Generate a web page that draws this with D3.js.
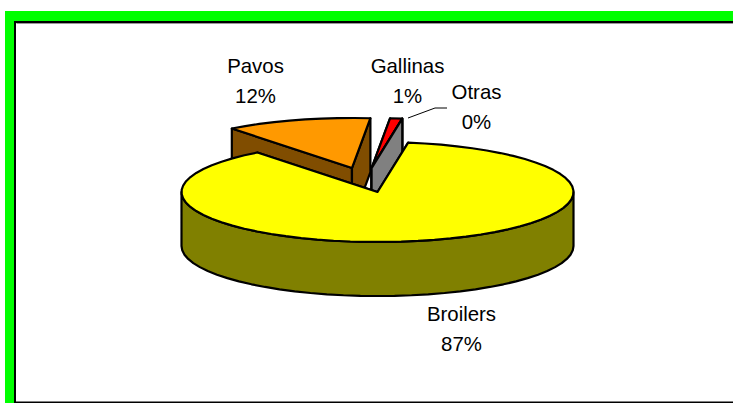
<!DOCTYPE html>
<html>
<head>
<meta charset="utf-8">
<script src="https://cdnjs.cloudflare.com/ajax/libs/d3/7.8.5/d3.min.js"></script>
<style>
html,body{margin:0;padding:0;background:#fff;overflow:hidden}
text{font-family:"Liberation Sans",Arial,sans-serif;font-size:20.4px;fill:#000;text-anchor:middle}
</style>
</head>
<body>
<svg id="chart" width="733" height="403"></svg>
<script>
// Shares of poultry meat production by type of bird
const categories = ["Broilers", "Pavos", "Gallinas", "Otras"];
const shares = [87, 12, 1, 0];

const topColors = ["#ffff00", "#ff9900", "#ff0000", "#808080"];
const sideColors = ["#808000", "#804d00", "#800000", "#808080"];

// Pulled-out wedges: distance as a fraction of the radius, and its bearing in degrees
const pullDistance = [0, 0.497, 0.48, 0.48];
const pullBearing = [0, -15.2, -3.6, -3.6];

// Label centres (name baseline) and painting order (back to front)
const labelCentres = [[461.5, 321], [255.5, 73], [407.5, 73], [476.5, 99]];
const paintOrder = [1, 2, 3, 0];

const width = 733, height = 403;
const centre = {x: 377.5, y: 192}, rx = 196, ry = 50, depth = 54;
const firstAngle = 9;

const svg = d3.select("#chart");
const toRad = d => d * Math.PI / 180;

// Frame: green band on the top and left, thin black rule inside it
svg.append("rect").attr("x", 5).attr("y", 11).attr("width", width - 5).attr("height", 10).attr("fill", "#00ff00");
svg.append("rect").attr("x", 5).attr("y", 11).attr("width", 9).attr("height", height - 11).attr("fill", "#00ff00");
svg.append("path").attr("d", `M${width},22H15V${height}`).attr("fill", "none").attr("stroke", "#000").attr("stroke-width", 2);
svg.append("path").attr("d", `M${width},23.5H16.5`).attr("fill", "none").attr("stroke", "#999").attr("stroke-width", 1);
svg.append("path").attr("d", `M15,402.2H${width}`).attr("fill", "none").attr("stroke", "#000").attr("stroke-width", 1.6);

// Elliptical projection of the unit disc
const px = d3.scaleLinear().domain([-1, 1]).range([-rx, rx]);
const py = d3.scaleLinear().domain([-1, 1]).range([-ry, ry]);

const pie = d3.pie().value(d => d).sort(null)
  .startAngle(toRad(firstAngle)).endAngle(toRad(firstAngle + 360));
const arcs = pie(shares);

const line = d3.line().curve(d3.curveLinear);

function apexOf(i) {
  const b = toRad(pullBearing[i]), k = pullDistance[i];
  return [centre.x + px(Math.sin(b) * k), centre.y + py(-Math.cos(b) * k)];
}
function rim(apex, a, drop = 0) {
  return [apex[0] + px(Math.sin(a)), apex[1] + py(-Math.cos(a)) + drop];
}
function sample(a0, a1) {
  const n = Math.max(1, Math.round(Math.abs(a1 - a0) / toRad(5)));
  return d3.range(n + 1).map(j => a0 + (a1 - a0) * j / n);
}

const slices = svg.append("g").attr("stroke", "#000").attr("stroke-width", 2.2).attr("stroke-linejoin", "round");

paintOrder.forEach(i => {
  const arc = arcs[i], apex = apexOf(i), g = slices.append("g").attr("class", categories[i]);
  const a0 = arc.startAngle, a1 = arc.endAngle;

  // Cut faces of the wedge
  [a0, a1].forEach(a => {
    const r0 = rim(apex, a), r1 = rim(apex, a, depth);
    g.append("path").attr("fill", sideColors[i])
      .attr("d", line([apex, r0, r1, [apex[0], apex[1] + depth]]) + "Z");
  });

  // Outer wall: only the front half of the rim faces the viewer
  const w0 = Math.max(a0, Math.PI / 2), w1 = Math.min(a1, 3 * Math.PI / 2);
  if (w1 > w0) {
    const angles = sample(w0, w1);
    const upper = angles.map(a => rim(apex, a));
    const lower = angles.slice().reverse().map(a => rim(apex, a, depth));
    g.append("path").attr("fill", sideColors[i]).attr("d", line(upper.concat(lower)) + "Z");
  }

  // Top surface (a zero share leaves only its cut face)
  if (a1 > a0) {
    const top = [apex].concat(sample(a0, a1).map(a => rim(apex, a)));
    g.append("path").attr("fill", topColors[i]).attr("d", line(top) + "Z");
  }
});

// Leader from the Gallinas wedge to its label
svg.append("path").attr("d", "M408,118L435,108H447").attr("fill", "none").attr("stroke", "#000").attr("stroke-width", 1);

// Category name above its percentage
const labels = svg.append("g");
categories.forEach((name, i) => {
  const [x, y] = labelCentres[i];
  labels.append("text").attr("x", x).attr("y", y).text(name);
  labels.append("text").attr("x", x).attr("y", y + 29.5).text(shares[i] + "%");
});
</script>
</body>
</html>
